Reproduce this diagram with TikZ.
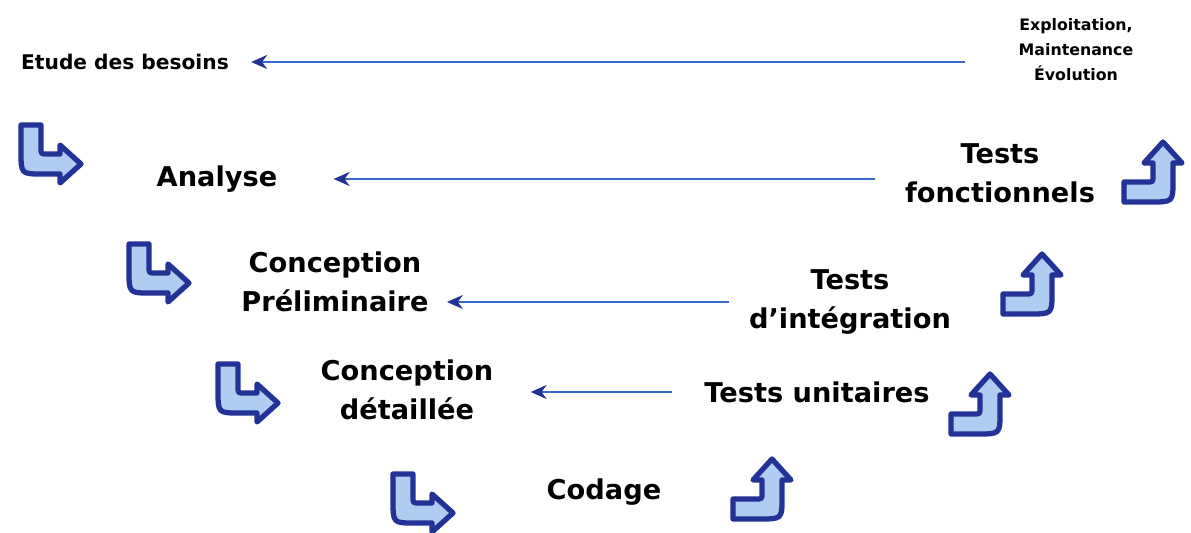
\documentclass[tikz,border=0pt]{standalone}
\usepackage{fontspec}
\setmainfont{DejaVu Sans}
\usetikzlibrary{arrows.meta}

\definecolor{vline}{RGB}{55,105,200}
\definecolor{vdark}{RGB}{35,50,150}
\definecolor{vfill}{RGB}{175,205,240}

\tikzset{
  phase/.style={inner sep=0pt, align=center, font=\bfseries\fontsize{15.5}{22}\selectfont},
  little/.style={inner sep=0pt, align=center, font=\bfseries\fontsize{11.5}{14}\selectfont},
  tiny/.style={inner sep=0pt, align=center, font=\bfseries\fontsize{9}{14.2}\selectfont},
  back/.style={draw=vline, line width=1.2pt, -{Stealth[color=vdark,length=0.32cm,width=0.28cm]}},
  turn/.pic={
    \draw[vdark, line width=3pt, fill=vfill, line join=round]
      (-29,-28) -- (-29,-2) .. controls (-29,21) .. (-8,21) -- (10,21) -- (10,30)
      -- (31,11) -- (10,-8) -- (10,1) -- (-3,1) .. controls (-9,1) .. (-9,-5)
      -- (-9,-28) -- cycle;
  }
}

\begin{document}
\begin{tikzpicture}[x=0.02cm, y=-0.02cm]
\useasboundingbox (0,0) rectangle (1191,533);
% nodes

\node[little] (etude) at (125,62) {Etude des besoins};
\node[tiny] (exp) at (1076,50) {Exploitation,\\Maintenance\\Évolution};
\node[phase] (an) at (217,179) {Analyse};
\node[phase] (tf) at (1000,173) {Tests\\fonctionnels};
\node[phase] (cp) at (335,282) {Conception\\Préliminaire};
\node[phase] (ti) at (850,302) {Tests\\d'intégration};
\node[phase] (cd) at (407,390) {Conception\\détaillée};
\node[phase] (tu) at (817,392) {Tests unitaires};
\node[phase] (cod) at (604,492) {Codage};

% turns down
\pic at (50,153) {turn};
\pic at (158,272) {turn};
\pic at (247,392) {turn};
\pic at (422,502) {turn};

% turns up
\pic[rotate=90] at (761,490) {turn};
\pic[rotate=90] at (979,405) {turn};
\pic[rotate=90] at (1031,285) {turn};
\pic[rotate=90] at (1152,173) {turn};

% arrows
\draw[back, shorten <=1.06cm, shorten >=0.44cm] (etude.east -| exp.west) -- (etude.east);
\draw[back, shorten <=0.6cm, shorten >=1.12cm] (an.east -| tf.west) -- (an.east);
\draw[back, shorten <=0.4cm, shorten >=0.36cm] (ti.west) -- (ti.west -| cp.east);
\draw[back, shorten <=0.64cm, shorten >=0.74cm] (tu.west) -- (tu.west -| cd.east);

\end{tikzpicture}
\end{document}
